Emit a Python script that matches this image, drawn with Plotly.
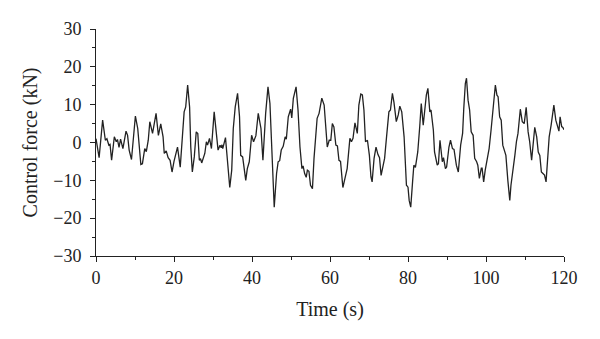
import plotly.graph_objects as go

time_s = [0.0, 0.8, 1.7, 2.4, 2.8, 3.3, 3.6, 4.0, 4.7, 5.2, 5.5, 5.9, 6.3, 6.6, 6.9, 7.7, 8.1, 8.5, 9.1,
          10.1, 10.7, 11.5, 11.9, 12.5, 12.9, 13.4, 13.8, 14.5, 15.4, 16.0, 16.6, 17.2, 17.5, 18.0, 18.5,
          19.0, 19.5, 20.0, 20.4, 20.9, 21.6, 22.2, 22.6, 23.0, 23.5, 24.0, 24.3, 24.7, 25.2, 25.7, 26.1,
          26.5, 26.8, 27.1, 27.9, 28.3, 28.6, 29.1, 29.6, 30.3, 30.8, 31.3, 31.8, 32.1, 32.3, 32.5, 33.2,
          33.7, 34.3, 34.8, 35.2, 35.7, 36.3, 36.8, 37.1, 37.6, 38.0, 38.4, 38.8, 39.3, 39.9, 40.4, 41.0,
          41.6, 42.3, 42.8, 43.5, 44.1, 44.6, 45.2, 45.7, 46.3, 46.7, 47.1, 47.5, 48.0, 48.5, 48.8, 49.3,
          49.9, 50.2, 50.6, 51.1, 51.3, 51.8, 52.3, 52.8, 53.1, 53.5, 53.9, 54.2, 54.6, 55.0, 55.5, 55.9,
          56.4, 56.7, 57.2, 57.9, 58.5, 58.9, 59.3, 59.8, 60.2, 60.6, 61.0, 61.5, 61.9, 62.3, 62.7, 63.3,
          63.9, 64.4, 65.1, 65.5, 65.9, 66.4, 67.0, 67.4, 67.9, 68.3, 68.7, 69.1, 69.6, 70.1, 70.5, 70.8,
          71.3, 71.8, 72.3, 72.7, 73.1, 73.6, 74.0, 74.5, 75.1, 75.5, 76.0, 76.4, 77.0, 77.5, 77.9, 78.4,
          79.0, 79.6, 80.0, 80.3, 80.7, 81.2, 81.5, 81.9, 82.5, 83.0, 83.4, 83.9, 84.3, 84.7, 85.1, 85.6,
          85.9, 86.5, 86.8, 87.5, 87.8, 88.2, 88.8, 89.1, 89.6, 89.9, 90.5, 90.9, 91.4, 91.8, 92.4, 92.9,
          93.5, 94.0, 94.3, 94.7, 95.0, 95.4, 95.8, 96.2, 96.7, 97.1, 97.6, 97.9, 98.3, 98.8, 99.0, 99.4,
          99.8, 100.3, 100.8, 101.3, 101.8, 102.4, 102.8, 103.1, 103.5, 103.9, 104.3, 104.7, 105.1, 105.6,
          106.1, 106.4, 106.9, 107.4, 107.8, 108.2, 108.8, 109.3, 109.8, 110.3, 110.8, 111.2, 111.7, 112.2,
          112.5, 113.0, 113.4, 113.8, 114.2, 114.6, 115.0, 115.4, 115.8, 116.2, 116.7, 117.2, 117.4, 117.9,
          118.2, 118.7, 119.0, 119.4, 119.7, 120.0]

force_kN = [1.0, -4.0, 5.9, 0.6, 1.0, -0.7, -0.5, -4.7, 1.5, 0.2, 0.8, -1.3, 0.9, -0.7, -1.6, 3.0, 1.9, -2.0, -4.5,
            7.0, 3.7, -5.8, -5.6, -1.6, -2.4, 0.6, 5.5, 2.4, 7.7, 1.9, 4.9, 1.5, -2.9, -2.2, -4.0,
            -4.7, -7.8, -5.0, -3.5, -1.2, -6.5, 1.5, 8.1, 9.4, 15.2, 9.4, -1.2, -7.8, -3.8, 2.8, 2.4,
            -4.7, -4.3, -5.4, -2.9, 0.2, -0.7, 1.1, -1.6, 8.1, 3.7, -2.0, -0.7, -1.4, -0.6, -1.6, 1.3,
            -5.6, -11.9, -7.3, 3.7, 9.4, 13.0, 6.8, -3.4, -3.8, -6.8, -10.0, -6.9, -5.1, 1.9, 0.2, 1.8,
            7.7, 3.7, -4.7, 7.7, 14.7, 10.3, -3.8, -17.1, -8.2, -5.1, -4.8, -2.0, -1.0, 1.5, 0.9, 6.8,
            8.8, 6.5, 11.7, 13.4, 14.7, 8.6, -1.2, -6.9, -6.2, -8.2, -9.2, -7.3, -7.6, -11.3, -12.2, -4.2,
            1.5, 6.4, 7.7, 11.7, 9.9, 4.1, -1.2, 0.6, 0.6, 5.0, 4.1, -0.7, -0.9, -4.7, -5.0, -11.9,
            -9.0, -6.9, 1.1, 0.2, 1.1, 5.2, 2.4, 9.9, 12.8, 12.6, 8.6, 0.2, 0.6, -3.4, -9.1, -10.4,
            -4.2, -1.2, -3.2, -4.0, -8.7, -6.1, -4.2, 1.5, 8.1, 8.6, 13.0, 10.6, 5.5, 7.3, 9.6, 8.1,
            1.5, -11.3, -11.8, -15.3, -17.1, -10.0, -6.0, -6.6, -2.5, 4.1, 10.3, 4.6, 9.4, 12.5, 14.3, 8.1,
            8.6, 3.3, -2.5, -6.0, -5.6, 0.6, -5.1, -4.0, -6.9, -6.5, -1.2, 0.6, -1.6, -1.8, -6.0, -7.8,
            -0.7, 2.4, 9.0, 15.6, 17.0, 11.2, 8.6, 2.8, 1.9, -4.2, -5.1, -6.0, -9.5, -6.8, -6.8, -10.4,
            -7.3, -4.2, -1.6, 3.3, 9.4, 15.2, 12.5, 12.1, 6.8, 5.9, -0.7, -1.9, -3.4, -10.0,
            -15.3, -11.3, -6.5, -3.4, 0.2, 2.4, 8.8, 5.5, 5.0, 9.3, 2.8, 0.2, -4.7, 0.6,
            4.0, 1.5, -2.5, -3.4, -7.8, -8.2, -8.6, -10.4, -3.4, 1.5, 4.6, 7.7, 9.9, 5.9,
            5.0, 3.0, 6.8, 4.2, 4.0, 3.4]

x_ticks = [0, 20, 40, 60, 80, 100, 120]
y_ticks = [-30, -20, -10, 0, 10, 20, 30]

font_family = "Liberation Serif"
ink = "#222222"

fig = go.Figure()
fig.add_trace(go.Scatter(x=time_s, y=force_kN, mode="lines",
                         line=dict(color=ink, width=1.3), showlegend=False))

axis_common = dict(showline=True, linecolor=ink, linewidth=1, ticks="outside",
                   ticklen=5, tickcolor=ink, showgrid=False, zeroline=False, automargin=False,
                   tickfont=dict(family=font_family, size=18, color=ink))

fig.update_xaxes(range=[0, 120], tickvals=x_ticks,
                 minor=dict(dtick=10, ticks="outside", ticklen=3, tickcolor=ink),
                 title=dict(text="Time (s)", font=dict(family=font_family, size=20, color=ink),
                            standoff=15),
                 **axis_common)
fig.update_yaxes(range=[-30, 30], tickvals=y_ticks, ticklabelstandoff=5,
                 minor=dict(dtick=5, ticks="outside", ticklen=3, tickcolor=ink),
                 title=dict(text="Control force (kN)", font=dict(family=font_family, size=20, color=ink),
                            standoff=10),
                 **axis_common)

# page body adds an 8px offset, so margins are shifted to compensate
fig.update_layout(width=600, height=339, margin=dict(l=88, r=44, t=21, b=91),
                  plot_bgcolor="white", paper_bgcolor="white")

fig.write_html("out.html")
